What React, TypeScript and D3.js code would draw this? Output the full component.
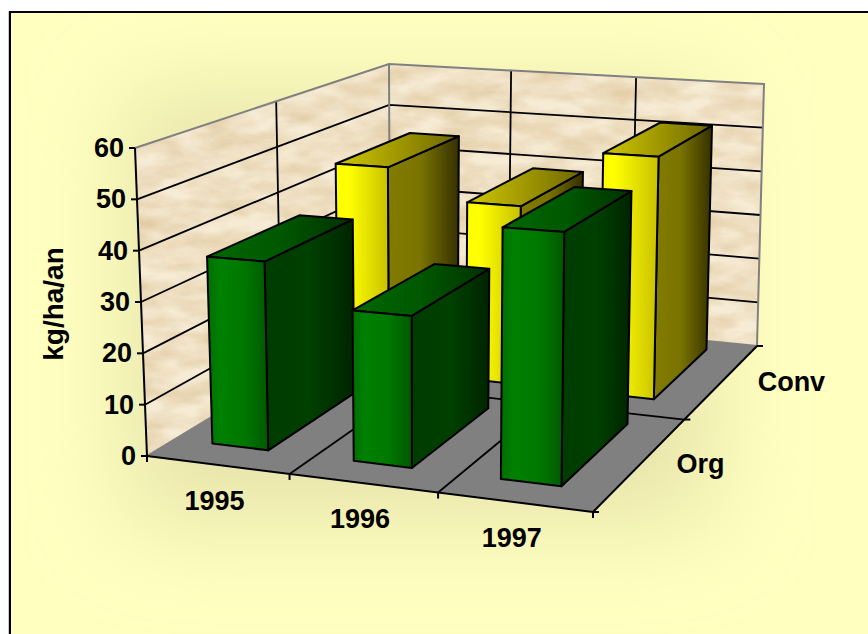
import * as d3 from 'd3';

const years = ['1995', '1996', '1997'];
const seriesNames = ['Org', 'Conv'];
const orgValues = [37, 29, 47.2];
const convValues = [44.8, 38.4, 51];
const valueTicks = [0, 10, 20, 30, 40, 50, 60];

type Pt = [number, number];

// plot box corners as seen on screen: front-left, front-right, back-right, back-left
const floorQuad: Pt[] = [[147, 456], [593, 512], [757, 346], [390, 309]];
const ceilQuad: Pt[] = [[135, 148], [597, 177], [764, 84], [389, 64]];

// unit square -> quad homography
function quadMap(q: Pt[]) {
  const [[x0, y0], [x1, y1], [x2, y2], [x3, y3]] = q;
  const dx1 = x1 - x2, dx2 = x3 - x2, sx = x0 - x1 + x2 - x3;
  const dy1 = y1 - y2, dy2 = y3 - y2, sy = y0 - y1 + y2 - y3;
  const den = dx1 * dy2 - dx2 * dy1;
  const g = (sx * dy2 - dx2 * sy) / den;
  const h = (dx1 * sy - sx * dy1) / den;
  const a = x1 - x0 + g * x1, b = x3 - x0 + h * x3;
  const d = y1 - y0 + g * y1, e = y3 - y0 + h * y3;
  return (u: number, v: number): Pt => {
    const k = g * u + h * v + 1;
    return [(a * u + b * v + x0) / k, (d * u + e * v + y0) / k];
  };
}

const floorAt = quadMap(floorQuad);
const ceilAt = quadMap(ceilQuad);

const xBand = d3.scaleBand<string>().domain(years).range([-0.01, 0.99]).paddingInner(0.6).paddingOuter(0.3);
const zBand = d3.scaleBand<string>().domain(seriesNames).range([0.018, 1.018]).paddingInner(0.31).paddingOuter(0.155);
const yScale = d3.scaleLinear().domain([0, 60]).range([0, 1]);

function project(u: number, v: number, value: number): Pt {
  const b = floorAt(u, v);
  const t = ceilAt(u, v);
  const k = yScale(value);
  return [b[0] + (t[0] - b[0]) * k, b[1] + (t[1] - b[1]) * k];
}

const poly = (pts: Pt[]) => d3.line()(pts) + 'Z';
const seg = (a: Pt, b: Pt) => d3.line()([a, b]) as string;

const bars = [
  ...years.map((year, i) => ({ year, series: 'Conv', value: convValues[i], scheme: 'yellow' })),
  ...years.map((year, i) => ({ year, series: 'Org', value: orgValues[i], scheme: 'green' })),
];

const uTicks = d3.range(years.length + 1).map(i => i / years.length);
const vTicks = d3.range(seriesNames.length + 1).map(i => i / seriesNames.length);

const font = { fontFamily: '"Liberation Sans", Arial, sans-serif', fontWeight: 700, fontSize: 27, fill: '#000' };

function Grad({ id, stops }: { id: string; stops: [number, string][] }) {
  return (
    <linearGradient id={id} x1="0" y1="0" x2="1" y2="0">
      {stops.map(([o, c]) => <stop key={o} offset={o} stopColor={c} />)}
    </linearGradient>
  );
}

export default function App() {
  const wallLeft = [project(0, 0, 0), project(0, 1, 0), project(0, 1, 60), project(0, 0, 60)];
  const wallBack = [project(0, 1, 0), project(1, 1, 0), project(1, 1, 60), project(0, 1, 60)];
  const floor = [project(0, 0, 0), project(1, 0, 0), project(1, 1, 0), project(0, 1, 0)];

  return (
    <svg width={868} height={634} style={{ position: 'absolute', left: 0, top: 0 }}>
      <defs>
        <clipPath id="frame"><rect x={10} y={12} width={870} height={640} /></clipPath>
        <filter id="soft" x="-30%" y="-30%" width="160%" height="160%">
          <feGaussianBlur stdDeviation="48" />
        </filter>
        <filter id="paper" x="0" y="0" width="1" height="1" colorInterpolationFilters="sRGB">
          <feTurbulence type="fractalNoise" baseFrequency="0.025 0.06" numOctaves="4" seed="7" />
          <feColorMatrix type="matrix" values="0 0 0 0 0.88  0 0 0 0 0.79  0 0 0 0 0.63  1.5 0 0 0 -0.42" />
          <feComposite in2="SourceAlpha" operator="in" result="tex" />
          <feFlood floodColor="#f6ebd4" />
          <feComposite in2="SourceAlpha" operator="in" />
          <feMerge>
            <feMergeNode />
            <feMergeNode in="tex" />
          </feMerge>
        </filter>
        <Grad id="yFront" stops={[[0, '#ffff00'], [0.25, '#ffff00'], [1, '#c8c000']]} />
        <Grad id="ySide" stops={[[0, '#827c00'], [0.45, '#7a7400'], [1, '#363000']]} />
        <Grad id="yTop" stops={[[0, '#cfc800'], [0.5, '#a09800'], [1, '#6c6600']]} />
        <Grad id="gFront" stops={[[0, '#006e00'], [0.2, '#008000'], [0.6, '#007800'], [1, '#005800']]} />
        <Grad id="gSide" stops={[[0, '#003c00'], [0.5, '#004000'], [1, '#002400']]} />
        <Grad id="gTop" stops={[[0, '#006800'], [0.5, '#005800'], [1, '#003000']]} />
      </defs>

      <path d="M8.5 634V11" stroke="#c8c8c8" strokeWidth={1} fill="none" />
      <rect x={10} y={12} width={870} height={640} fill="#ffffc0" />
      <g clipPath="url(#frame)">
        <rect x={130} y={95} width={580} height={425} fill="#e6e3aa" filter="url(#soft)" />
      </g>
      <rect x={10} y={12} width={870} height={640} fill="none" stroke="#000" strokeWidth={2} />

      <path d={poly(wallLeft)} filter="url(#paper)" />
      <path d={poly(wallBack)} filter="url(#paper)" />
      <path d={poly(floor)} fill="#808080" />

      {/* gridlines */}
      <g fill="none" stroke="#000" strokeWidth={1.8}>
        {valueTicks.slice(1, -1).map(t => (
          <path key={t} d={d3.line()([project(0, 0, t), project(0, 1, t), project(1, 1, t)]) as string} />
        ))}
        {uTicks.slice(1, -1).map(u => (
          <g key={u}>
            <path d={seg(project(u, 1, 0), project(u, 1, 60))} />
            <path d={seg(project(u, 0, 0), project(u, 1, 0))} />
          </g>
        ))}
        {vTicks.slice(1, -1).map(v => (
          <g key={v}>
            <path d={seg(project(0, v, 0), project(0, v, 60))} />
            <path d={seg(project(0, v, 0), project(1, v, 0))} />
          </g>
        ))}
      </g>

      {/* wall outline */}
      <g fill="none" stroke="#808080" strokeWidth={2}>
        <path d={d3.line()([project(0, 0, 60), project(0, 1, 60), project(1, 1, 60), project(1, 1, 0)]) as string} />
        <path d={seg(project(0, 1, 0), project(0, 1, 60))} />
        <path d={seg(project(0, 0, 0), project(0, 1, 0))} />
        <path d={seg(project(0, 1, 0), project(1, 1, 0))} />
      </g>

      {/* bars, back row first */}
      {bars.map(d => {
        const u0 = xBand(d.year)!;
        const u1 = u0 + xBand.bandwidth();
        const v0 = zBand(d.series)!;
        const v1 = v0 + zBand.bandwidth();
        const f = d.scheme === 'yellow' ? 'y' : 'g';
        const a = project(u0, v0, 0), b = project(u1, v0, 0), c = project(u1, v1, 0);
        const a2 = project(u0, v0, d.value), b2 = project(u1, v0, d.value);
        const c2 = project(u1, v1, d.value), e2 = project(u0, v1, d.value);
        return (
          <g key={d.series + d.year} stroke="#000" strokeWidth={2} strokeLinejoin="round">
            <path d={poly([b, c, c2, b2])} fill={`url(#${f}Side)`} />
            <path d={poly([a2, b2, c2, e2])} fill={`url(#${f}Top)`} />
            <path d={poly([a, b, b2, a2])} fill={`url(#${f}Front)`} />
          </g>
        );
      })}

      {/* axes */}
      <g fill="none" stroke="#000" strokeWidth={2}>
        <path d={seg(project(0, 0, 0), project(0, 0, 60))} />
        {valueTicks.map(t => {
          const p = project(0, 0, t);
          return <path key={t} d={seg([p[0] - 6, p[1]], p)} />;
        })}
        <path d={seg(project(0, 0, 0), project(1, 0, 0))} />
        {uTicks.map(u => {
          const p = project(u, 0, 0);
          return <path key={u} d={seg(p, [p[0], p[1] + 6])} />;
        })}
        <path d={seg(project(1, 0, 0), project(1, 1, 0))} />
        {vTicks.map(v => {
          const p = project(1, v, 0);
          return <path key={v} d={seg(p, [p[0] + 6, p[1]])} />;
        })}
      </g>

      {/* labels */}
      {valueTicks.map(t => {
        const p = project(0, 0, t);
        return <text key={t} {...font} x={p[0] - 11} y={p[1] + 9} textAnchor="end">{t}</text>;
      })}
      {years.map((year, i) => {
        const p = project((i + 0.5) / years.length, 0, 0);
        return <text key={year} {...font} x={p[0] - 3} y={p[1] + 45} textAnchor="middle">{year}</text>;
      })}
      {seriesNames.map((name, i) => {
        const p = project(1, (i + 0.5) / seriesNames.length, 0);
        return <text key={name} {...font} x={p[0] + 35} y={p[1] + 10} textAnchor="start">{name}</text>;
      })}
      <text {...font} fontSize={28} transform="translate(63,304) rotate(-90)" textAnchor="middle">kg/ha/an</text>
    </svg>
  );
}
